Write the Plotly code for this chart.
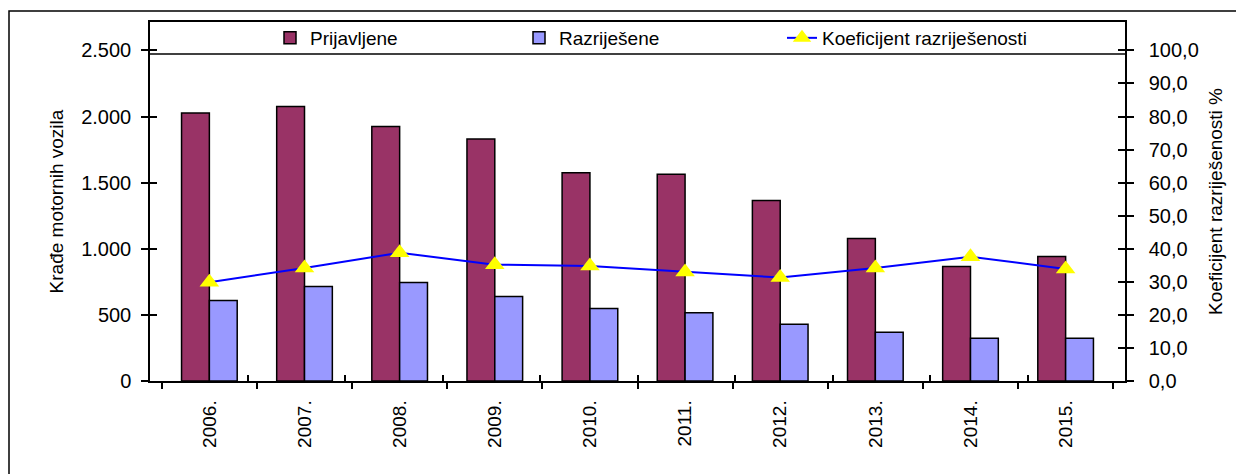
import plotly.graph_objects as go

years = ["2006.", "2007.", "2008.", "2009.", "2010.", "2011.", "2012.", "2013.", "2014.", "2015."]
prijavljene = [2027, 2076, 1924, 1830, 1575, 1563, 1366, 1078, 866, 942]
razrijesene = [608, 714, 745, 639, 548, 517, 429, 368, 323, 323]
koeficijent = [29.9, 34.2, 38.8, 35.2, 34.8, 33.0, 31.3, 34.2, 37.6, 33.9]

# page body adds an 8px offset; plot area in window coordinates: x 150..1125, y 22..381
OX, OY = 8, 8
W, H = 1244 - OX, 474 - OY
PX0, PX1, PY0, PY1 = 150, 1125, 22, 381
L, R, T, B = PX0 - OX, (OX + W) - PX1, PY0 - OY, (OY + H) - PY1
PW, PH = PX1 - PX0, PY1 - PY0

def px(x):
    return (x - PX0) / PW

def py(y):
    return (PY1 - y) / PH

FONT = "Liberation Sans, Arial, sans-serif"
YMAX, Y2MAX = 2715, 108.6

fig = go.Figure()
fig.add_trace(go.Bar(
    x=years, y=prijavljene, name="Prijavljene",
    marker=dict(color="#993366", line=dict(color="black", width=1.5)),
    legend="legend", showlegend=True,
))
fig.add_trace(go.Bar(
    x=years, y=razrijesene, name="Razriješene",
    marker=dict(color="#9999FF", line=dict(color="black", width=1.5)),
    legend="legend2", showlegend=True,
))
fig.add_trace(go.Scatter(
    x=years, y=koeficijent, name="Koeficijent razriješenosti",
    mode="lines+markers", yaxis="y2",
    line=dict(color="#0000FF", width=2),
    marker=dict(symbol="triangle-up", size=17, color="#FFFF00", line=dict(width=0)),
    legend="legend3", showlegend=True,
))
# empty helper traces so the inner-tick overlay axes get drawn
fig.add_trace(go.Scatter(x=[], y=[], xaxis="x2", yaxis="y3", showlegend=False, hoverinfo="skip"))
fig.add_trace(go.Scatter(x=[], y=[], xaxis="x2", yaxis="y4", showlegend=False, hoverinfo="skip"))

legend_common = dict(
    orientation="h", yanchor="middle", xanchor="left",
    y=py(38), bgcolor="rgba(0,0,0,0)", borderwidth=0,
    font=dict(family=FONT, size=19, color="black"),
)

tickstyle = dict(tickwidth=1.5, tickcolor="black", showgrid=False, zeroline=False)

fig.update_layout(
    width=W, height=H,
    margin=dict(l=L, r=R, t=T, b=B, pad=0, autoexpand=False),
    paper_bgcolor="white", plot_bgcolor="white",
    separators=",.",
    showlegend=True,
    barmode="group", bargap=0.415, bargroupgap=0,
    font=dict(family=FONT, size=20, color="black"),
    legend=dict(legend_common, x=px(270)),
    legend2=dict(legend_common, x=px(519)),
    legend3=dict(legend_common, x=px(782)),
    xaxis=dict(
        type="category", tickson="boundaries", ticks="outside", ticklen=6,
        showline=True, linecolor="black", linewidth=1.5, mirror=True,
        tickangle=-90, tickfont=dict(size=19), ticklabelstandoff=10,
        automargin=False, **tickstyle,
    ),
    xaxis2=dict(
        overlaying="x", anchor="y", side="bottom",
        range=[-0.5, len(years) - 0.5], tick0=-0.5, dtick=1,
        ticks="inside", ticklen=6, showticklabels=False, showline=False,
        automargin=False, **tickstyle,
    ),
    yaxis=dict(
        range=[0, YMAX], dtick=500, tick0=0, tickformat=",d",
        ticks="outside", ticklen=7,
        showline=True, linecolor="black", linewidth=1.5,
        ticklabelstandoff=6, automargin=False,
        title=dict(text="Krađe motornih vozila", standoff=13, font=dict(size=19)),
        **tickstyle,
    ),
    yaxis3=dict(
        overlaying="y", anchor="x2", side="left",
        range=[0, YMAX], dtick=500, tick0=0,
        ticks="inside", ticklen=7, showticklabels=False, showline=False,
        automargin=False, **tickstyle,
    ),
    yaxis2=dict(
        range=[0, Y2MAX], dtick=10, tick0=0, tickformat=".1f",
        overlaying="y", side="right",
        ticks="outside", ticklen=7,
        showline=True, linecolor="black", linewidth=1.5,
        ticklabelstandoff=11, automargin=False,
        title=dict(text="Koeficijent razriješenosti %", standoff=11, font=dict(size=19)),
        **tickstyle,
    ),
    yaxis4=dict(
        overlaying="y", anchor="x2", side="right",
        range=[0, Y2MAX], dtick=10, tick0=0,
        ticks="inside", ticklen=7, showticklabels=False, showline=False,
        automargin=False, **tickstyle,
    ),
    shapes=[
        dict(type="line", xref="paper", yref="paper", x0=0, x1=1,
             y0=py(54), y1=py(54), line=dict(color="black", width=1.5)),
        dict(type="rect", xref="paper", yref="paper", x0=px(9), x1=px(1300),
             y0=py(520), y1=py(11), line=dict(color="black", width=1.5),
             fillcolor="rgba(0,0,0,0)", layer="below"),
    ],
)

fig.write_html("out.html")
